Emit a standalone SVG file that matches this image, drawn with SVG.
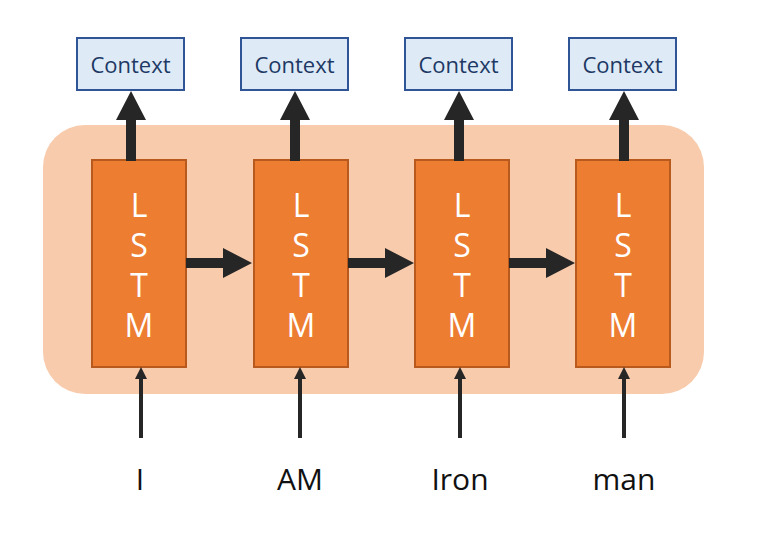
<svg xmlns="http://www.w3.org/2000/svg" width="764" height="556" viewBox="0 0 764 556">
<style>
.ctx rect{fill:#DEEBF7;stroke:#2F5597;stroke-width:2}
.ctx text{font-family:"Open Sans","Noto Sans",sans-serif;font-size:22px;fill:#203864;text-anchor:middle}
.lstm rect{fill:#ED7D31;stroke:#B85A1E;stroke-width:2}
.lstm text{font-family:"Open Sans","Noto Sans",sans-serif;font-size:32px;fill:#FFFFFF;text-anchor:middle}
.word text{font-family:"Open Sans","Noto Sans",sans-serif;font-size:30px;fill:#111111;text-anchor:middle}
.thick{fill:#262626}
.thin{stroke:#262626;stroke-width:4;fill:none}
</style>
<rect id="background" x="43" y="125" width="661" height="269" rx="42" ry="42" fill="#F8CBAD"/>
<g id="ctx1" class="ctx"><rect x="77" y="38" width="107" height="52"/><text x="130.5" y="73">Context</text></g>
<g id="ctx2" class="ctx"><rect x="241" y="38" width="107" height="52"/><text x="294.5" y="73">Context</text></g>
<g id="ctx3" class="ctx"><rect x="405" y="38" width="107" height="52"/><text x="458.5" y="73">Context</text></g>
<g id="ctx4" class="ctx"><rect x="569" y="38" width="107" height="52"/><text x="622.5" y="73">Context</text></g>
<g id="lstm1" class="lstm"><rect x="92" y="160" width="94" height="207"/><text x="139" y="217">L</text><text x="139" y="257">S</text><text x="139" y="297">T</text><text x="139" y="337">M</text></g>
<g id="lstm2" class="lstm"><rect x="254" y="160" width="94" height="207"/><text x="301" y="217">L</text><text x="301" y="257">S</text><text x="301" y="297">T</text><text x="301" y="337">M</text></g>
<g id="lstm3" class="lstm"><rect x="415" y="160" width="94" height="207"/><text x="462" y="217">L</text><text x="462" y="257">S</text><text x="462" y="297">T</text><text x="462" y="337">M</text></g>
<g id="lstm4" class="lstm"><rect x="576" y="160" width="94" height="207"/><text x="623" y="217">L</text><text x="623" y="257">S</text><text x="623" y="297">T</text><text x="623" y="337">M</text></g>
<g id="word1" class="word"><text x="140" y="490">I</text></g>
<g id="word2" class="word"><text x="300" y="490">AM</text></g>
<g id="word3" class="word"><text x="460" y="490">Iron</text></g>
<g id="word4" class="word"><text x="624" y="490">man</text></g>
<g id="connectors">
<path class="thick" d="M126 161 V120 H116 L131 91 L146 120 H136 V161 Z"/>
<path class="thick" d="M290 161 V120 H280 L295 91 L310 120 H300 V161 Z"/>
<path class="thick" d="M454 161 V120 H444 L459 91 L474 120 H464 V161 Z"/>
<path class="thick" d="M619 161 V120 H609 L624 91 L639 120 H629 V161 Z"/>
<path class="thick" d="M186 258 H223 V248 L252 263 L223 278 V268 H186 Z"/>
<path class="thick" d="M348 258 H385 V248 L414 263 L385 278 V268 H348 Z"/>
<path class="thick" d="M509 258 H546 V248 L575 263 L546 278 V268 H509 Z"/>
<line class="thin" x1="141" y1="438" x2="141" y2="376"/>
<path class="thick" d="M135 379 L141 367 L147 379 Z"/>
<line class="thin" x1="300" y1="438" x2="300" y2="376"/>
<path class="thick" d="M294 379 L300 367 L306 379 Z"/>
<line class="thin" x1="460" y1="438" x2="460" y2="376"/>
<path class="thick" d="M454 379 L460 367 L466 379 Z"/>
<line class="thin" x1="624" y1="438" x2="624" y2="376"/>
<path class="thick" d="M618 379 L624 367 L630 379 Z"/>
</g>
</svg>
